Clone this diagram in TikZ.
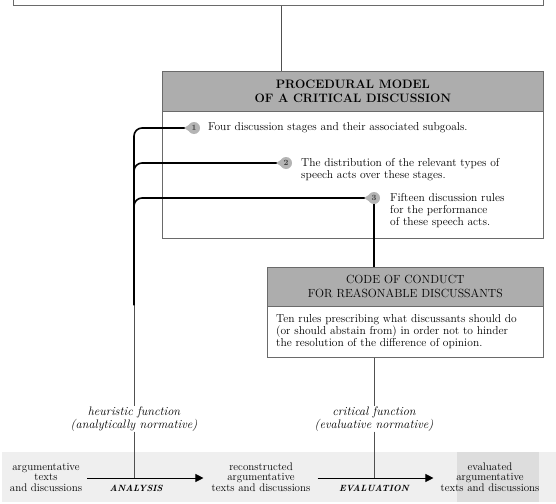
\documentclass[tikz,border=0pt]{standalone}
\usepackage{fontspec}
\usetikzlibrary{arrows.meta,calc}
\definecolor{hdr}{HTML}{ADADAD}
\definecolor{bord}{HTML}{6A6A6A}
\definecolor{band}{HTML}{EFEFEF}
\definecolor{bandd}{HTML}{DDDDDD}
\definecolor{bul}{HTML}{B4B4B4}
\definecolor{conn}{HTML}{505050}
\tikzset{
  box/.style={draw=bord, line width=0.7pt, inner sep=0pt, anchor=north west},
  hbox/.style={box, fill=hdr},
  body/.style={font=\fontsize{11.5}{12}\selectfont, inner sep=0pt, align=left},
  lab/.style={font=\fontsize{12.3}{13}\selectfont\itshape, inner sep=0pt, align=center},
  btm/.style={font=\fontsize{11}{10.5}\selectfont, inner sep=0pt, align=center},
  proc/.style={font=\fontsize{9}{10}\selectfont\bfseries\itshape, inner sep=0pt},
  bus/.style={line width=1.6pt, black},
  thinline/.style={line width=0.7pt, conn},
  bullet/.style={circle, fill=bul, inner sep=0pt, minimum size=12pt, font=\fontsize{8}{8}\selectfont\bfseries, text=black!75},
  arr/.style={line width=0.8pt, black, -{Triangle[length=8pt,width=8pt]}}
}
\begin{document}
\begin{tikzpicture}[x=1pt,y=-1pt]
\useasboundingbox (0,0) rectangle (556,503);
% bottom band
\fill[band] (2,452) rectangle (556,502);
\fill[bandd] (457,452) rectangle (539,502);
% top box
\node[box, minimum width=530pt, minimum height=25pt] (top) at (13,-20) {};
% procedural model
\node[hbox, minimum width=381pt, minimum height=40pt] (prochead) at (162,71) {};
\node[font=\fontsize{12.2}{14.5}\selectfont\bfseries, align=center, inner sep=0pt] (proct) at (prochead.center) {PROCEDURAL MODEL\\OF A CRITICAL DISCUSSION};
\node[box, minimum width=381pt, minimum height=127pt] (procbody) at (162,111) {};
\coordinate (tx) at (281,0);
\draw[thinline] (top.south -| tx) -- (prochead.north -| tx);
% bullet positions
\coordinate (b1c) at (194,128);
\coordinate (b2c) at (286,163);
\coordinate (b3c) at (374,198);
\coordinate (busx) at (134,0);
\coordinate (busbot) at (134,305);
% code of conduct
\node[hbox, minimum width=276pt, minimum height=39pt] (codehead) at (267,267) {};
\node[font=\fontsize{11.8}{14}\selectfont, align=center, inner sep=0pt] (codet) at (codehead.center) {CODE OF CONDUCT\\FOR REASONABLE DISCUSSANTS};
\node[box, minimum width=276pt, minimum height=51pt] (codebody) at (267,306) {};
\node[body, anchor=north west] (codetext) at (276,314) {Ten rules prescribing what discussants should do\\(or should abstain from) in order not to hinder\\the resolution of the difference of opinion.};
% labels
\node[lab] (heur) at (134,419) {heuristic function\\(analytically normative)};
\node[lab] (crit) at (374,419) {critical function\\(evaluative normative)};
% bottom texts
\node[btm] (t1) at (46,477) {argumentative\\texts\\and discussions};
\node[btm] (t2) at (261,477) {reconstructed\\argumentative\\texts and discussions};
\node[btm] (t3) at (490,477) {evaluated\\argumentative\\texts and discussions};
\node[proc] (ana) at (136,488) {ANALYSIS};
\node[proc] (eva) at (374,488) {EVALUATION};
% connectors
\draw[thinline] (busbot) -- (busbot |- heur.north);
\draw[bus, rounded corners=8pt] (b1c) -| (busbot);
\draw[bus, rounded corners=8pt] (b2c) -| (busbot);
\draw[bus, rounded corners=8pt] (b3c) -| (busbot);
\draw[bus] (b3c) -- (b3c |- codehead.north);
\draw[thinline] (codebody.south -| crit) -- (crit.north);
\coordinate (a1s) at ($(t1.east)+(5,1)$);
\coordinate (a1e) at ($(t2.west)+(-8,1)$);
\coordinate (a2s) at ($(t2.east)+(7,1)$);
\coordinate (a2e) at ($(t3.west)+(-7,1)$);
\draw[arr] (a1s) -- (a1e);
\draw[arr] (a2s) -- (a2e);
\draw[thinline] (heur.south) -- (heur.south |- a1s);
\draw[thinline] (crit.south) -- (crit.south |- a2s);
% bullets
\foreach \n/\lab in {b1/1,b2/2,b3/3}{
  \fill[bul] ($(\n c)+(-10,0)$) -- ($(\n c)+(-2,-5)$) -- ($(\n c)+(-2,5)$) -- cycle;
  \node[bullet] (\n) at (\n c) {\lab};
}
\node[body, anchor=west] (s1) at (208,128) {Four discussion stages and their associated subgoals.};
\node[body, anchor=north west] (s2) at (301,158) {The distribution of the relevant types of\\speech acts over these stages.};
\node[body, anchor=north west] (s3) at (390,193) {Fifteen discussion rules\\for the performance\\of these speech acts.};
\end{tikzpicture}
\end{document}
